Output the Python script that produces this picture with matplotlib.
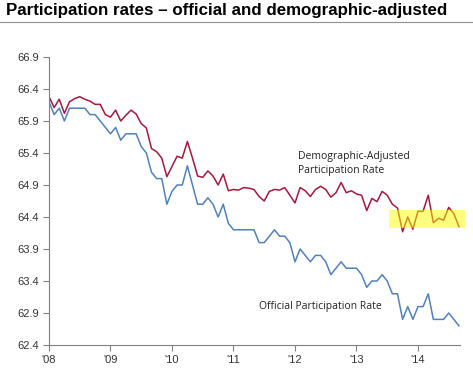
import numpy as np
import matplotlib
matplotlib.use("Agg")
import matplotlib.pyplot as plt
from matplotlib.patches import Rectangle

# Monthly, Jan 2008 - Sep 2014
official = [
    66.2, 66.0, 66.1, 65.9, 66.1, 66.1, 66.1, 66.1, 66.0, 66.0, 65.9, 65.8,
    65.7, 65.8, 65.6, 65.7, 65.7, 65.7, 65.5, 65.4, 65.1, 65.0, 65.0, 64.6,
    64.8, 64.9, 64.9, 65.2, 64.9, 64.6, 64.6, 64.7, 64.6, 64.4, 64.6, 64.3,
    64.2, 64.2, 64.2, 64.2, 64.2, 64.0, 64.0, 64.1, 64.2, 64.1, 64.1, 64.0,
    63.7, 63.9, 63.8, 63.7, 63.8, 63.8, 63.7, 63.5, 63.6, 63.7, 63.6, 63.6,
    63.6, 63.5, 63.3, 63.4, 63.4, 63.5, 63.4, 63.2, 63.2, 62.8, 63.0, 62.8,
    63.0, 63.0, 63.2, 62.8, 62.8, 62.8, 62.9, 62.8, 62.7,
]
demo_adjusted = [
    66.28, 66.11, 66.24, 66.02, 66.20, 66.25, 66.28, 66.24, 66.21, 66.16, 66.16, 66.00,
    65.96, 66.07, 65.90, 65.99, 66.07, 66.01, 65.86, 65.79, 65.47, 65.42, 65.32, 65.03,
    65.19, 65.35, 65.32, 65.58, 65.32, 65.04, 65.02, 65.12, 65.04, 64.90, 65.07, 64.81,
    64.83, 64.82, 64.86, 64.85, 64.83, 64.72, 64.65, 64.80, 64.83, 64.82, 64.86, 64.74,
    64.62, 64.86, 64.81, 64.72, 64.83, 64.88, 64.83, 64.71, 64.78, 64.94, 64.78, 64.81,
    64.76, 64.74, 64.50, 64.69, 64.64, 64.80, 64.74, 64.60, 64.54, 64.17, 64.40, 64.21,
    64.49, 64.49, 64.74, 64.31, 64.38, 64.35, 64.55, 64.45, 64.25,
]
years = [2008, 2009, 2010, 2011, 2012, 2013, 2014]
year_labels = ["'08", "'09", "'10", "'11", "'12", "'13", "'14"]
y_ticks = [62.4, 62.9, 63.4, 63.9, 64.4, 64.9, 65.4, 65.9, 66.4, 66.9]

t = 2008 + np.arange(len(official)) / 12

fig = plt.figure(figsize=(4.73, 3.68), dpi=100)
ax = fig.add_axes([49 / 473, 23 / 368, 411 / 473, 288 / 368])

ax.plot(t, official, color="#4F81BD", lw=1.1)
ax.plot(t, demo_adjusted, color="#A8173C", lw=1.1)

# highlight box over the recent months
ax.add_patch(Rectangle((2008 + 66.3 / 12, 64.23), 14.8 / 12, 0.28,
                       facecolor="#FFFF00", alpha=0.5, edgecolor="none",
                       zorder=3, clip_on=False))

ax.set_xlim(2008, 2008 + 80.2 / 12)
ax.set_ylim(62.4, 66.9)
ax.set_xticks(years)
ax.set_xticklabels(year_labels)
ax.set_yticks(y_ticks)
ax.set_yticklabels([f"{v:.1f}" for v in y_ticks])

for s in ["top", "right"]:
    ax.spines[s].set_visible(False)
for s in ["left", "bottom"]:
    ax.spines[s].set_color("#808080")
ax.tick_params(colors="#808080", labelcolor="#333333", labelsize=8, length=4,
               direction="out")
for lab in ax.get_xticklabels() + ax.get_yticklabels():
    lab.set_family("Liberation Sans")

ax.text(2012.05, 65.04, "Demographic-Adjusted\nParticipation Rate",
        fontsize=7.5, family="Open Sans", color="#222222",
        va="bottom", linespacing=1.35)
ax.text(2011.41, 63.0, "Official Participation Rate",
        fontsize=7.5, family="Open Sans", color="#222222", va="center")

fig.text(6 / 473, 1 - 11 / 368, "Participation rates \u2013 official and demographic-adjusted",
         fontsize=12.2, fontweight="bold", family="Liberation Sans", va="center")
fig.add_artist(plt.Line2D([0, 1], [1 - 22 / 368, 1 - 22 / 368],
                          color="#909090", lw=0.8))

fig.savefig("out.png", dpi=100)
